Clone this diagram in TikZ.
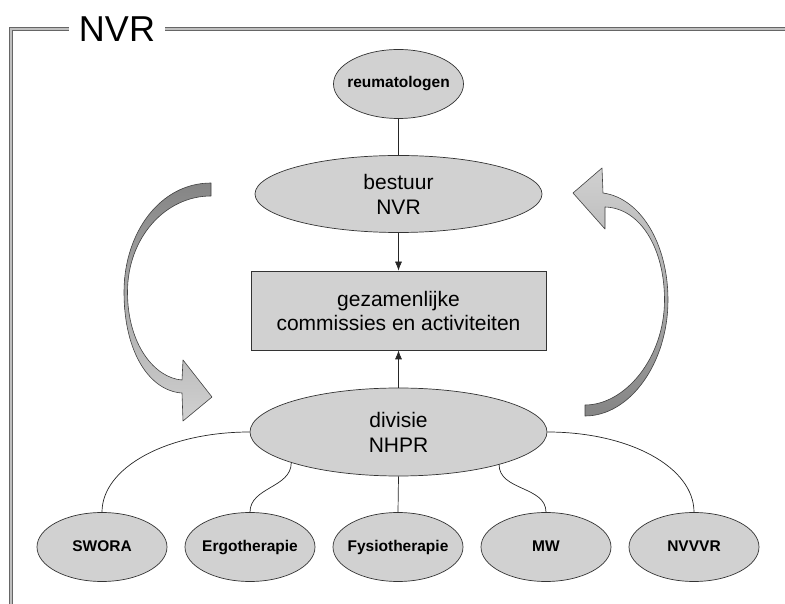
\documentclass[tikz,border=0pt]{standalone}
\usepackage{fontspec}
\setmainfont{Liberation Sans}
\usetikzlibrary{shapes.geometric, arrows.meta}

\begin{document}
\begin{tikzpicture}[x=1pt, y=1pt,
  kader/.style={draw=black!60, double=black!25, double distance=2pt, line width=1pt},
  blob/.style={ellipse, draw=black!80, fill=black!18, line width=0.7pt,
    inner xsep=-8pt, inner ysep=0pt, minimum width=130pt, minimum height=69pt,
    text height=11pt, text depth=3pt,
    font=\fontsize{15.5}{18}\selectfont\bfseries},
  bigblob/.style={ellipse, draw=black!80, fill=black!18, line width=0.7pt,
    inner sep=0pt, align=center, font=\fontsize{21}{25}\selectfont},
  lijn/.style={draw=black!85, line width=0.7pt},
  boog/.style={draw=black!75, line width=0.6pt, line join=round}
]
\def \rij {56}     % y of the bottom row
\def \stap {148}   % spacing of the bottom row
\def \midx {398.5}

\useasboundingbox (0,0) rectangle (785,603);

% frame with title
\node[font=\fontsize{36}{40}\selectfont, inner xsep=10pt, inner ysep=0pt] (titel) at (117,574) {NVR};
\draw[kader] (titel.west) -| (10.5,-5);
\draw[kader] (titel.east) -- (790,574);

% top part
\node[blob] (reum) at (\midx,519) {reumatologen};
\node[bigblob, minimum width=287pt, minimum height=77pt] (bestuur) at (\midx,409) {bestuur\\NVR};
\node[rectangle, draw=black!80, fill=black!18, line width=0.7pt, align=center,
  minimum width=295pt, minimum height=79pt, font=\fontsize{21}{24}\selectfont] (comm) at (\midx,292.5)
  {gezamenlijke\\commissies en activiteiten};
\node[bigblob, minimum width=297pt, minimum height=88pt] (divisie) at (\midx,171) {divisie\\NHPR};

\draw[lijn] (reum) -- (bestuur);
\draw[lijn, -{Latex[length=9pt, width=7pt]}] (bestuur) -- (comm);
\draw[lijn, -{Latex[length=9pt, width=7pt]}] (divisie) -- (comm);

% bottom row
\node[blob] (swora) at ({102 + 0*\stap},\rij) {SWORA};
\node[blob] (ergo)  at ({102 + 1*\stap},\rij) {Ergotherapie};
\node[blob] (fysio) at ({102 + 2*\stap},\rij) {Fysiotherapie};
\node[blob] (mw)    at ({102 + 3*\stap},\rij) {MW};
\node[blob] (nvvvr) at ({102 + 4*\stap},\rij) {NVVVR};

\draw[lijn] (divisie.west) .. controls +(-82,0) and +(0,45) .. (swora.north);
\draw[lijn] (divisie.196) to[out=-90, in=90] (ergo.north);
\draw[lijn] (divisie.south) -- (fysio.north);
\draw[lijn] (divisie.342) to[out=-90, in=90] (mw.north);
\draw[lijn] (divisie.east) .. controls +(82,0) and +(0,45) .. (nvvvr.north);

% curved arrows
\path[boog, top color=black!48, bottom color=black!18]
  (211,420) .. controls (160,420) and (124,370) .. (124,311)
  .. controls (124,250) and (150,212) .. (182,210)
  -- (183,182) -- (212,206) -- (183,243) -- (182,223)
  .. controls (155,225) and (127.5,258) .. (127.5,311)
  .. controls (127.5,365) and (165,407) .. (211,407) -- cycle;

\path[boog, top color=black!18, bottom color=black!48]
  (603,410) .. controls (640,405) and (668,360) .. (668,303)
  .. controls (668,240) and (630,187) .. (585,187)
  -- (585,198)
  .. controls (625,198) and (664.5,245) .. (664.5,303)
  .. controls (664.5,355) and (640,395) .. (605,396)
  -- (605,374) -- (573,410) -- (602,435) -- cycle;
\end{tikzpicture}
\end{document}
